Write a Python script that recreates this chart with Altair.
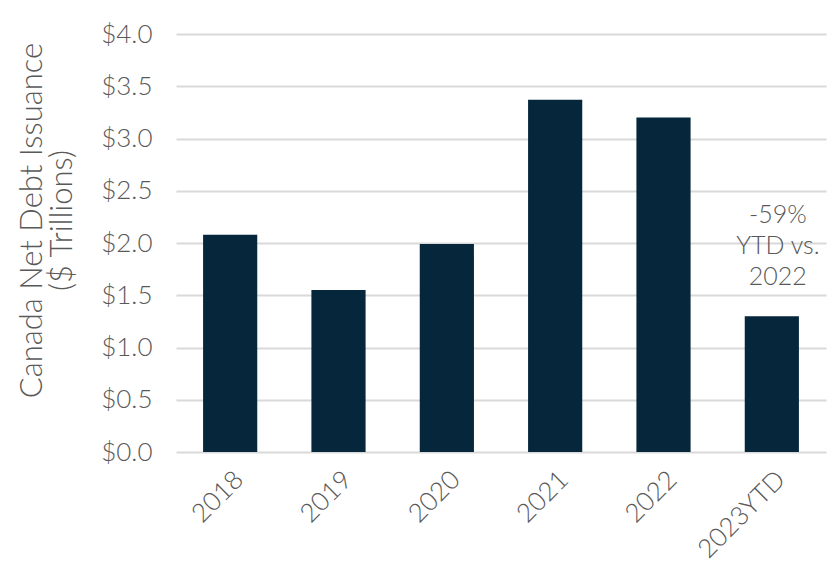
import altair as alt
import pandas as pd

years = ["2018", "2019", "2020", "2021", "2022", "2023YTD"]
values = [2.08, 1.55, 1.99, 3.37, 3.20, 1.30]
annot_category = "2023YTD"
annot_lines = ["-59%", "YTD vs.", "2022"]
y_ticks = [0, 0.5, 1.0, 1.5, 2.0, 2.5, 3.0, 3.5, 4.0]

df = pd.DataFrame({"year": years, "value": values})
ann = pd.DataFrame({"year": [annot_category],
                    "value": [values[years.index(annot_category)]],
                    "text": ["|".join(annot_lines)]})

FONT = "Lato"
GREY = "#595959"

x_enc = alt.X("year:N", sort=years,
              scale=alt.Scale(paddingInner=0.5, paddingOuter=0.25),
              axis=alt.Axis(title=None, labelAngle=-45, labelFontSize=26,
                            labelColor=GREY, labelFont=FONT, labelFontWeight=300,
                            ticks=False, domain=False, labelPadding=14))

bars = alt.Chart(df).mark_bar(color="#05263b").encode(
    x=x_enc,
    y=alt.Y("value:Q", scale=alt.Scale(domain=[0, 4]),
            axis=alt.Axis(values=y_ticks, format="$.1f",
                          title=["Canada Net Debt Issuance", "($ Trillions)"],
                          titleFontSize=31, titleFontWeight=300,
                          titleColor=GREY, titleFont=FONT, titlePadding=22,
                          titleLineHeight=30, titleY=186,
                          labelFontSize=26, labelColor=GREY, labelFont=FONT,
                          labelFontWeight=300,
                          labelPadding=24, ticks=False, domain=False,
                          gridColor="#d9d9d9", gridWidth=2)),
)

text = alt.Chart(ann).mark_text(fontSize=25, color=GREY, font=FONT, fontWeight=300,
                                 baseline="bottom", lineHeight=31, lineBreak="|",
                                 dy=-88, dx=6).encode(
    x=alt.X("year:N", sort=years),
    y="value:Q",
    text="text:N",
)

chart = alt.layer(bars, text).properties(
    width=650, height=418,
    autosize=alt.AutoSizeParams(type="none"),
    padding={"left": 168, "top": 26, "right": 2, "bottom": 130},
).configure_view(stroke=None)

chart.save("out.html", embed_options={"renderer": "svg", "actions": False})
